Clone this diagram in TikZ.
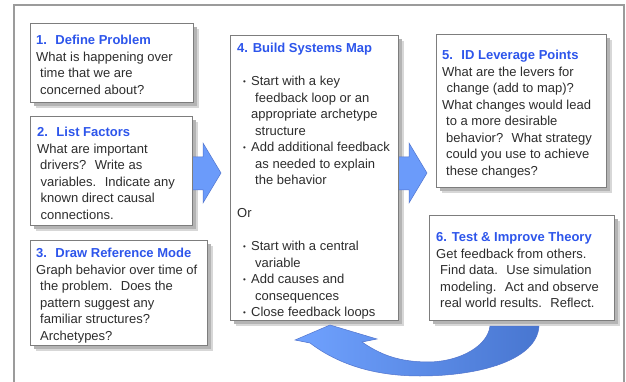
\documentclass[tikz,border=0pt]{standalone}
\usepackage{fontspec}
\setmainfont{Liberation Sans}
\usetikzlibrary{shadows}
\definecolor{ttl}{RGB}{45,85,235}
\definecolor{txt}{RGB}{45,45,45}
\definecolor{arrfill}{RGB}{107,155,250}
\definecolor{arrline}{RGB}{80,115,205}
\definecolor{arrleft}{RGB}{112,162,255}
\definecolor{arrright}{RGB}{72,118,208}
\definecolor{frm}{RGB}{155,155,155}
\definecolor{boxline}{RGB}{125,125,125}
\definecolor{shdlight}{RGB}{215,215,215}
\definecolor{shd}{RGB}{180,180,180}
\newcommand\mybul{\makebox[8pt][l]{\fontsize{8}{8}\selectfont\raisebox{1.5pt}{•}}}
\begin{document}
\begin{tikzpicture}[x=1pt,y=-1pt,
  card/.style={draw=boxline, line width=0.8pt, fill=white, inner sep=0pt, anchor=north west,
    drop shadow={shadow xshift=5.5pt, shadow yshift=-5.5pt, fill=shdlight, opacity=1},
    drop shadow={shadow xshift=3.5pt, shadow yshift=-3.5pt, fill=shd, opacity=1}},
  body/.style={anchor=north west, inner sep=0pt, align=left, text=txt,
    font=\fontsize{13}{16.5}\selectfont},
  blockarrow/.style={fill=arrfill, draw=arrline, line width=0.5pt, line join=miter},
  curvedarrow/.style={left color=arrleft, right color=arrright, draw=arrline, line width=0.5pt}]
\useasboundingbox (0,0) rectangle (626,382);
\fill[white] (0,0) rectangle (626,382);
\draw[frm, line width=1.3pt] (14,382) -- (14,5) -- (624,5) -- (624,382);

% boxes
\node[card, minimum width=163pt, minimum height=79pt]  (b1) at (30,23)  {};
\node[card, minimum width=162pt, minimum height=109pt] (b2) at (30,116) {};
\node[card, minimum width=177pt, minimum height=105pt] (b3) at (30,240) {};
\node[card, minimum width=168pt, minimum height=285pt] (b4) at (230,35) {};
\node[card, minimum width=170pt, minimum height=153pt] (b5) at (436,34) {};
\node[card, minimum width=185pt, minimum height=105pt] (b6) at (429,215) {};

% texts
\node[body] (t1) at (36,35) {\textcolor{ttl}{\bfseries 1.~ Define Problem}\\
What is happening over\\
\hspace*{4pt}time that we are\\
\hspace*{4pt}concerned about?};

\node[body] (t2) at (37,127) {\textcolor{ttl}{\bfseries 2.~ List Factors}\\
What are important\\
\hspace*{3pt}drivers?~ Write as\\
\hspace*{3.5pt}variables.~ Indicate any\\
\hspace*{3.5pt}known direct causal\\
\hspace*{3.5pt}connections.};

\node[body] (t3) at (36,248) {\textcolor{ttl}{\bfseries 3.~ Draw Reference Mode}\\
Graph behavior over time of\\
\hspace*{4pt}the problem.~ Does the\\
\hspace*{4pt}pattern suggest any\\
\hspace*{4pt}familiar structures?\\
\hspace*{4pt}Archetypes?};

\node[body] (t4) at (237,43) {\textcolor{ttl}{\bfseries 4. Build Systems Map}\\[16.5pt]
\hspace*{6pt}\mybul Start with a key\\
\hspace*{18pt}feedback loop or an\\
\hspace*{14pt}appropriate archetype\\
\hspace*{18pt}structure\\
\hspace*{6pt}\mybul Add additional feedback\\
\hspace*{18pt}as needed to explain\\
\hspace*{18pt}the behavior\\[16.5pt]
Or\\[16.5pt]
\hspace*{6pt}\mybul Start with a central\\
\hspace*{18pt}variable\\
\hspace*{6pt}\mybul Add causes and\\
\hspace*{18pt}consequences\\
\hspace*{6pt}\mybul Close feedback loops};

\node[body] (t5) at (442,50) {\textcolor{ttl}{\bfseries 5.~ ID Leverage Points}\\
What are the levers for\\
\hspace*{4.5pt}change (add to map)?\\
What changes would lead\\
\hspace*{4pt}to a more desirable\\
\hspace*{4pt}behavior?~ What strategy\\
\hspace*{4pt}could you use to achieve\\
\hspace*{4pt}these changes?};

\node[body] (t6) at (436,232) {\textcolor{ttl}{\bfseries 6. Test \& Improve Theory}\\
Get feedback from others.\\
\hspace*{4pt}Find data.~ Use simulation\\
\hspace*{4pt}modeling.~ Act and observe\\
\hspace*{4pt}real world results.~ Reflect.};

% block arrows
\draw[blockarrow] (193,157) -- (203,157) -- (203,143) -- (221,173) -- (203,203) -- (203,190) -- (193,190);
\draw[blockarrow] (399,157) -- (409,157) -- (409,143) -- (427,173) -- (409,203) -- (409,190) -- (399,190);

% curved return arrow from 6 back to 4
\shade[curvedarrow] (330,325) -- (377,339) -- (362,342)
  .. controls (385,358) and (405,362) .. (430,362)
  .. controls (462,361) and (488,345) .. (490,326)
  -- (539,326)
  .. controls (537,360) and (480,376) .. (420,376)
  .. controls (370,376) and (335,362) .. (310,343)
  -- (295,340) -- cycle;
\end{tikzpicture}
\end{document}
